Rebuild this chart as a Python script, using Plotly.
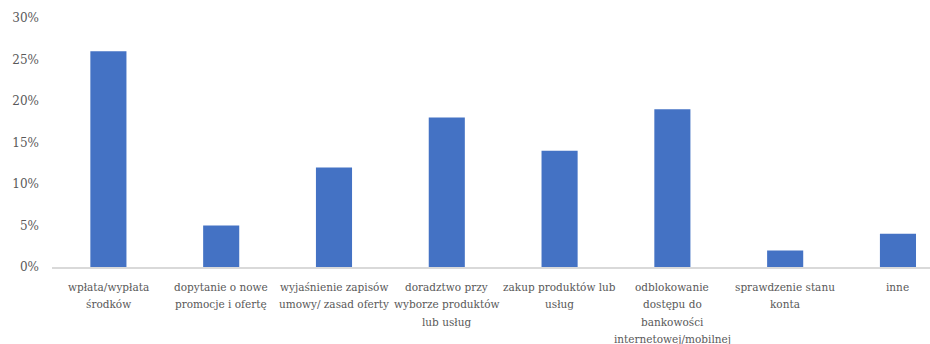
import plotly.graph_objects as go

# Categories (multi-line labels) and shares in percent
categories = [
    "wpłata/wypłata<br>środków",
    "dopytanie o nowe<br>promocje i ofertę",
    "wyjaśnienie zapisów<br>umowy/ zasad oferty",
    "doradztwo przy<br>wyborze produktów<br>lub usług",
    "zakup produktów lub<br>usług",
    "odblokowanie<br>dostępu do<br>bankowości<br>internetowej/mobilnej",
    "sprawdzenie stanu<br>konta",
    "inne",
]
values = [26, 5, 12, 18, 14, 19, 2, 4]
y_ticks = [0, 5, 10, 15, 20, 25, 30]
y_tick_labels = ["0%", "5%", "10%", "15%", "20%", "25%", "30%"]

font_family = "DejaVu Serif"
text_color = "#595959"
label_size = 10.5
line_step = 17.3      # vertical distance between label lines, px
first_line_gap = 20   # distance from axis to centre of first label line, px

positions = list(range(len(categories)))

fig = go.Figure(
    go.Bar(
        x=positions,
        y=values,
        marker=dict(color="#4472C4", line=dict(width=0)),
    )
)

# Category labels: one annotation per text line for looser line spacing
for pos, label in zip(positions, categories):
    for k, line in enumerate(label.split("<br>")):
        fig.add_annotation(
            x=pos,
            y=0,
            xref="x",
            yref="y",
            text=line,
            showarrow=False,
            xanchor="center",
            yanchor="middle",
            yshift=-(first_line_gap + k * line_step),
            font=dict(size=label_size, family=font_family, color=text_color),
        )

fig.update_layout(
    width=930,
    height=344,
    margin=dict(l=52, r=0, t=18, b=77),
    paper_bgcolor="white",
    plot_bgcolor="white",
    bargap=0.68,
    showlegend=False,
    font=dict(family=font_family, color=text_color),
)

fig.update_xaxes(
    range=[-0.5, 7.284],
    showline=True,
    linecolor="#d9d9d9",
    linewidth=2,
    showgrid=False,
    zeroline=False,
    ticks="",
    showticklabels=False,
)

fig.update_yaxes(
    range=[0, 30],
    tickmode="array",
    tickvals=y_ticks,
    ticktext=y_tick_labels,
    showline=False,
    showgrid=False,
    zeroline=False,
    ticks="",
    ticklabelstandoff=12,
    tickfont=dict(size=12, family=font_family, color=text_color),
)

fig.write_html("out.html")
